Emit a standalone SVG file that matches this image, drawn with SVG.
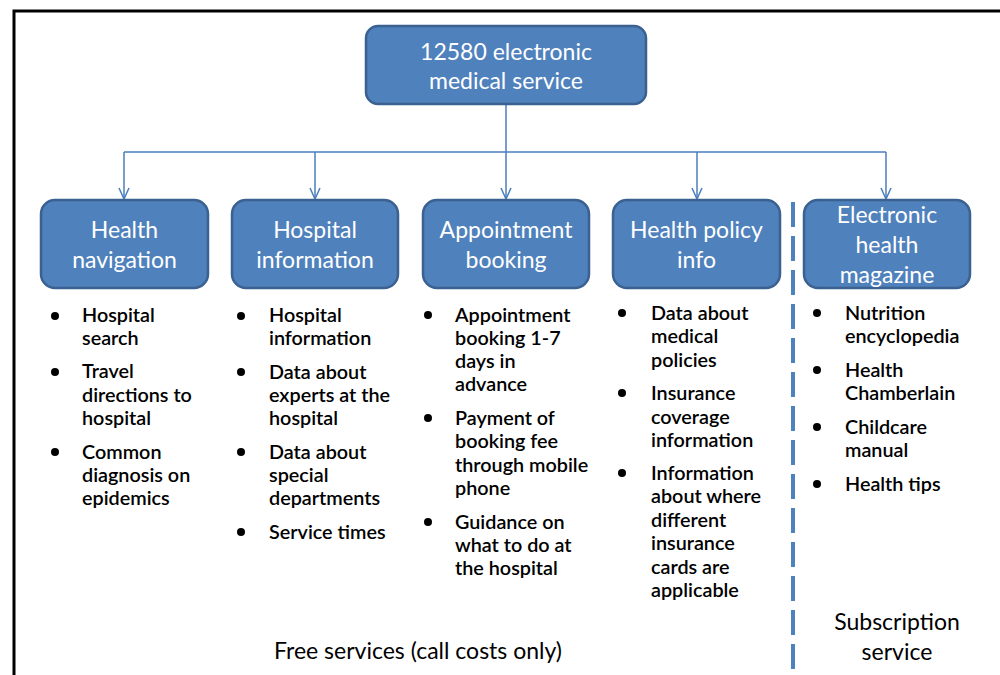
<svg xmlns="http://www.w3.org/2000/svg" width="1000" height="675" viewBox="0 0 1000 675">
<defs>
<style>
.box{fill:#4F81BD;stroke:#3A6190;stroke-width:2.5}
.bt{fill:#fff;font-family:Lato,"Liberation Sans",sans-serif;font-size:23px;text-anchor:middle}
.li{fill:#000;font-family:Lato,"Liberation Sans",sans-serif;font-size:19.8px;font-weight:600}
.cap{fill:#000;font-family:Lato,"Liberation Sans",sans-serif;font-size:23px;text-anchor:middle}
.con{fill:none;stroke:#4A7EBB;stroke-width:1.5}
</style>
<marker id="arrd" viewBox="-6 -12 12 12" refX="0" refY="0" markerWidth="12" markerHeight="12" markerUnits="userSpaceOnUse" orient="0">
<path d="M-5,-11 L0,0 L5,-11" fill="none" stroke="#4A7EBB" stroke-width="1.5"/>
</marker>
</defs>
<rect width="1000" height="675" fill="#fff"/>
<path d="M14,675 V11 H1000" fill="none" stroke="#000" stroke-width="3"/>

<g id="connectors">
<path class="con" d="M506,104 V152"/>
<path class="con" d="M124,152 H886"/>
<path class="con" d="M124,152 V199" marker-end="url(#arrd)"/>
<path class="con" d="M315,152 V199" marker-end="url(#arrd)"/>
<path class="con" d="M506,152 V199" marker-end="url(#arrd)"/>
<path class="con" d="M697,152 V199" marker-end="url(#arrd)"/>
<path class="con" d="M886,152 V199" marker-end="url(#arrd)"/>
</g>

<line x1="793" y1="202" x2="793" y2="670" stroke="#4F81BD" stroke-width="4" stroke-dasharray="25,9"/>

<g id="root">
<rect class="box" x="366" y="26" width="280" height="78" rx="12"/>
<text class="bt" x="506" y="60">12580 electronic</text>
<text class="bt" x="506" y="89">medical service</text>
</g>

<g id="n1">
<rect class="box" x="41" y="200" width="167" height="88" rx="14"/>
<text class="bt" x="124.5" y="238">Health</text>
<text class="bt" x="124.5" y="268">navigation</text>
</g>
<g id="n2">
<rect class="box" x="232" y="200" width="166" height="88" rx="14"/>
<text class="bt" x="315" y="238">Hospital</text>
<text class="bt" x="315" y="268">information</text>
</g>
<g id="n3">
<rect class="box" x="423" y="200" width="166" height="88" rx="14"/>
<text class="bt" x="506" y="238">Appointment</text>
<text class="bt" x="506" y="268">booking</text>
</g>
<g id="n4">
<rect class="box" x="613" y="200" width="167" height="88" rx="14"/>
<text class="bt" x="696.5" y="238">Health policy</text>
<text class="bt" x="696.5" y="268">info</text>
</g>
<g id="n5">
<rect class="box" x="804" y="200" width="166" height="88" rx="14"/>
<text class="bt" x="887" y="223">Electronic</text>
<text class="bt" x="887" y="253">health</text>
<text class="bt" x="887" y="283">magazine</text>
</g>

<g id="list1">
<circle cx="55" cy="316" r="4"/><circle cx="55" cy="372" r="4"/><circle cx="55" cy="452" r="4"/>
<text class="li" x="82" y="322">Hospital</text>
<text class="li" x="82" y="345">search</text>
<text class="li" x="82" y="378">Travel</text>
<text class="li" x="82" y="402">directions to</text>
<text class="li" x="82" y="425">hospital</text>
<text class="li" x="82" y="459">Common</text>
<text class="li" x="82" y="482">diagnosis on</text>
<text class="li" x="82" y="505">epidemics</text>
</g>
<g id="list2">
<circle cx="241" cy="316" r="4"/><circle cx="241" cy="372" r="4"/><circle cx="241" cy="452" r="4"/><circle cx="241" cy="532" r="4"/>
<text class="li" x="269" y="322">Hospital</text>
<text class="li" x="269" y="345">information</text>
<text class="li" x="269" y="379">Data about</text>
<text class="li" x="269" y="402">experts at the</text>
<text class="li" x="269" y="425">hospital</text>
<text class="li" x="269" y="459">Data about</text>
<text class="li" x="269" y="482">special</text>
<text class="li" x="269" y="505">departments</text>
<text class="li" x="269" y="539">Service times</text>
</g>
<g id="list3">
<circle cx="428" cy="315" r="4"/><circle cx="428" cy="418" r="4"/><circle cx="428" cy="522" r="4"/>
<text class="li" x="455" y="322">Appointment</text>
<text class="li" x="455" y="345">booking 1-7</text>
<text class="li" x="455" y="368">days in</text>
<text class="li" x="455" y="391">advance</text>
<text class="li" x="455" y="425">Payment of</text>
<text class="li" x="455" y="448">booking fee</text>
<text class="li" x="455" y="472">through mobile</text>
<text class="li" x="455" y="495">phone</text>
<text class="li" x="455" y="529">Guidance on</text>
<text class="li" x="455" y="552">what to do at</text>
<text class="li" x="455" y="575">the hospital</text>
</g>
<g id="list4">
<circle cx="622" cy="313" r="4"/><circle cx="622" cy="393" r="4"/><circle cx="622" cy="473" r="4"/>
<text class="li" x="651" y="320">Data about</text>
<text class="li" x="651" y="343">medical</text>
<text class="li" x="651" y="367">policies</text>
<text class="li" x="651" y="400">Insurance</text>
<text class="li" x="651" y="424">coverage</text>
<text class="li" x="651" y="447">information</text>
<text class="li" x="651" y="480">Information</text>
<text class="li" x="651" y="503">about where</text>
<text class="li" x="651" y="527">different</text>
<text class="li" x="651" y="550">insurance</text>
<text class="li" x="651" y="574">cards are</text>
<text class="li" x="651" y="597">applicable</text>
</g>
<g id="list5">
<circle cx="817" cy="313" r="4"/><circle cx="817" cy="370" r="4"/><circle cx="817" cy="427" r="4"/><circle cx="817" cy="484" r="4"/>
<text class="li" x="845" y="320">Nutrition</text>
<text class="li" x="845" y="343">encyclopedia</text>
<text class="li" x="845" y="377">Health</text>
<text class="li" x="845" y="400">Chamberlain</text>
<text class="li" x="845" y="434">Childcare</text>
<text class="li" x="845" y="457">manual</text>
<text class="li" x="845" y="491">Health tips</text>
</g>

<text class="cap" x="418" y="659">Free services (call costs only)</text>
<text class="cap" x="897" y="630">Subscription</text>
<text class="cap" x="897" y="660">service</text>
</svg>
